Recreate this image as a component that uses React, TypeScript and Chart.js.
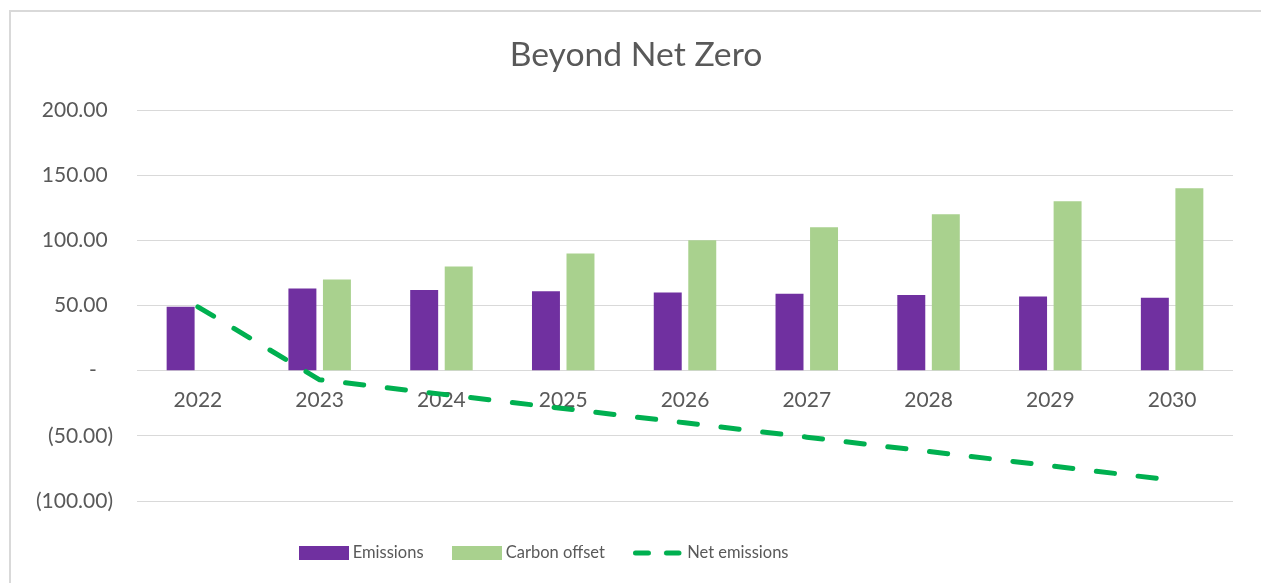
import React, { useEffect, useRef } from "react";
import { Chart, registerables } from "chart.js";

Chart.register(...registerables);

const categories = ["2022", "2023", "2024", "2025", "2026", "2027", "2028", "2029", "2030"];
const emissions = [49, 63, 62, 61, 60, 59, 58, 57, 56];
const carbonOffset = [0, 70, 80, 90, 100, 110, 120, 130, 140];
const netEmissions = [49, -7, -18, -29, -40, -51, -62, -73, -84];
const seriesLabels = ["Emissions", "Carbon offset", "Net emissions"];
const chartTitle = "Beyond Net Zero";
const yMin = -100;
const yMax = 200;
const yStep = 50;

const PURPLE = "#7030A0";
const LIGHT_GREEN = "#A9D18E";
const GREEN = "#00B050";
const TEXT = "#595959";
const GRID = "#D9D9D9";
const FONT = "Lato, 'Open Sans', sans-serif";

const LEGEND_DX = -76.5;
const LEGEND_DY = 11.75;
const TITLE_DX = 14;

function boxIcon(color: string): HTMLCanvasElement {
  const c = document.createElement("canvas");
  c.width = 50;
  c.height = 14;
  const g = c.getContext("2d")!;
  g.fillStyle = color;
  g.fillRect(0, 0, 50, 14);
  return c;
}

function dashIcon(color: string): HTMLCanvasElement {
  const c = document.createElement("canvas");
  c.width = 50;
  c.height = 8;
  const g = c.getContext("2d")!;
  g.strokeStyle = color;
  g.lineWidth = 5;
  g.lineCap = "round";
  g.beginPath();
  g.moveTo(2.5, 4);
  g.lineTo(15.5, 4);
  g.moveTo(33.5, 4);
  g.lineTo(46, 4);
  g.stroke();
  return c;
}

function fmt(v: number): string {
  if (v === 0) return "-   ";
  if (v < 0) return "(" + Math.abs(v).toFixed(2) + ")";
  return v.toFixed(2) + " ";
}

export default function App() {
  const ref = useRef<HTMLCanvasElement>(null);

  useEffect(() => {
    if (!ref.current) return;
    const icons = [boxIcon(PURPLE), boxIcon(LIGHT_GREEN), dashIcon(GREEN)];

    const nudge = {
      id: "nudge",
      afterLayout(chart: any) {
        const lg = chart.legend;
        if (lg) {
          lg.left += LEGEND_DX;
          lg.right += LEGEND_DX;
          lg.top += LEGEND_DY;
          lg.bottom += LEGEND_DY;
        }
        const tt = chart.titleBlock;
        if (tt) {
          tt.left += TITLE_DX;
          tt.right += TITLE_DX;
        }
      },
    };

    const chart = new Chart(ref.current, {
      type: "bar",
      data: {
        labels: categories,
        datasets: [
          {
            type: "bar",
            label: seriesLabels[0],
            data: emissions,
            backgroundColor: PURPLE,
            borderWidth: 0,
            order: 1,
          },
          {
            type: "bar",
            label: seriesLabels[1],
            data: carbonOffset,
            backgroundColor: LIGHT_GREEN,
            borderWidth: 0,
            order: 1,
          },
          {
            type: "line",
            label: seriesLabels[2],
            data: netEmissions,
            borderColor: GREEN,
            backgroundColor: GREEN,
            borderWidth: 5,
            borderDash: [18.3, 23.7],
            borderCapStyle: "round",
            borderJoinStyle: "round",
            pointRadius: 0,
            tension: 0,
            fill: false,
            order: 0,
          } as any,
        ],
      },
      options: {
        responsive: false,
        animation: false,
        events: [],
        datasets: {
          bar: {
            categoryPercentage: 0.567,
            barPercentage: 0.81,
          },
        },
        layout: {
          padding: { left: 0, right: 28, top: 0, bottom: 23.5 },
        },
        scales: {
          x: {
            type: "category",
            position: { y: 0 } as any,
            offset: true,
            grid: { display: false, drawTicks: false },
            border: { display: false },
            ticks: {
              padding: 17,
              color: TEXT,
              font: { family: FONT, size: 21 },
              maxRotation: 0,
              autoSkip: false,
            },
          },
          y: {
            min: yMin,
            max: yMax,
            grid: { color: GRID, lineWidth: 1, drawTicks: false },
            border: { display: false },
            ticks: {
              stepSize: yStep,
              padding: 24,
              color: TEXT,
              font: { family: FONT, size: 21 },
              callback: (v: any) => fmt(Number(v)),
            },
            afterFit: (scale: any) => {
              scale.width = 126;
            },
          },
        },
        plugins: {
          title: {
            display: true,
            text: chartTitle,
            color: TEXT,
            font: { family: FONT, size: 33.7, weight: "normal" as any },
            padding: { top: 22.8, bottom: 34.8 },
          },
          legend: {
            display: true,
            position: "bottom",
            labels: {
              usePointStyle: true,
              pointStyleWidth: 42,
              boxHeight: 14,
              padding: 32,
              color: TEXT,
              font: { family: FONT, size: 16.5 },
              generateLabels: () =>
                seriesLabels.map((t, i) => ({
                  text: t,
                  pointStyle: icons[i] as any,
                  fillStyle: "rgba(0,0,0,0)",
                  strokeStyle: "rgba(0,0,0,0)",
                  lineWidth: 0,
                  hidden: false,
                  datasetIndex: i,
                  fontColor: TEXT,
                })),
            },
          },
          tooltip: { enabled: false },
        },
      },
      plugins: [nudge],
    });

    return () => chart.destroy();
  }, []);

  return (
    <div
      style={{
        position: "fixed",
        left: 9,
        top: 10,
        width: 1260,
        height: 580,
        borderLeft: "2px solid #D9D9D9",
        borderTop: "2px solid #D9D9D9",
        background: "#fff",
        overflow: "hidden",
      }}
    >
      <canvas ref={ref} width={1250} height={571} style={{ display: "block" }} />
    </div>
  );
}
